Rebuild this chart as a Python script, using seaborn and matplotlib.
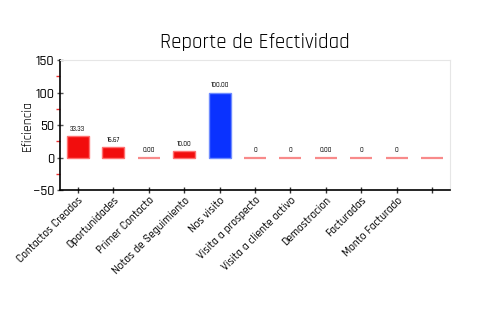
import matplotlib
matplotlib.use("Agg")
import matplotlib.pyplot as plt
import seaborn as sns
import pandas as pd

categorias = ["Contactos Creados", "Oportunidades", "Primer Contacto",
              "Notas de Seguimiento", "Nos visito", "Visita a prospecto",
              "Visita a cliente activo", "Demostracion", "Facturadas",
              "Monto Facturado", ""]
eficiencia = [33.33, 16.67, 0.00, 10.00, 100.00, 0, 0, 0.00, 0, 0, 0]
etiquetas = ["33.33", "16.67", "0.00", "10.00", "100.00", "0", "0", "0.00",
             "0", "0", ""]

sns.set_theme(style="white")
plt.rcParams["font.family"] = ["Rajdhani", "Barlow Semi Condensed", "DejaVu Sans"]
plt.rcParams["font.weight"] = "medium"
for key in ["text.color", "axes.labelcolor", "xtick.labelcolor",
            "ytick.labelcolor", "axes.titlecolor"]:
    plt.rcParams[key] = "black"

df = pd.DataFrame({"cat": [c if c else " " for c in categorias],
                   "val": eficiencia})

def color_for(v):
    if v >= 100:
        return "#0a32ff"
    if v > 0:
        return "#f20d0d"
    return "#f88a8a"

colores = [color_for(v) for v in eficiencia]
bordes = ["#6f8cff" if v >= 100 else ("#ff7070" if v > 0 else "#f88a8a")
          for v in eficiencia]

fig = plt.figure(figsize=(5, 3.3), dpi=100)
ax = fig.add_axes([0.12, 0.424, 0.78, 0.394])
sns.barplot(data=df, x="cat", y="val", hue="cat", palette=colores,
            legend=False, width=0.62, ax=ax, saturation=1)

for patch, ec, v in zip(ax.patches, bordes, eficiencia):
    patch.set_edgecolor(ec)
    patch.set_linewidth(1.0 if v > 0 else 1.6)

for i, (v, t) in enumerate(zip(eficiencia, etiquetas)):
    if t:
        ax.annotate(t, (i, max(v, 0)), xytext=(0, 3), textcoords="offset points",
                    ha="center", va="bottom", fontsize=5, color="black")

ax.set_ylim(-50, 150)
ax.set_xlim(-0.5, len(categorias) - 0.5)
ax.set_yticks([-50, 0, 50, 100, 150])
ax.set_yticks([-25, 25, 75, 125], minor=True)
ax.tick_params(axis="y", which="major", length=5, width=1, color="#555555",
               labelsize=10, pad=1.5, left=True, direction="inout")
ax.tick_params(axis="y", which="minor", length=3, width=1, color="#f03030",
               left=True, direction="out")
ax.tick_params(axis="x", length=5, width=1, color="#333333", bottom=True,
               direction="inout", labelsize=8.4, pad=1)
ax.set_xticks(range(len(categorias)))
ax.set_xticklabels(categorias, rotation=45, ha="right", rotation_mode="anchor")

ax.set_xlabel("")
ax.set_ylabel("Eficiencia", fontsize=10, labelpad=0)
ax.set_title("Reporte de Efectividad", fontsize=15, pad=9)

for s in ["top", "right"]:
    ax.spines[s].set_color("#e6e6e6")
    ax.spines[s].set_linewidth(0.8)
for s in ["left", "bottom"]:
    ax.spines[s].set_color("black")
    ax.spines[s].set_linewidth(1.2)

fig.savefig("out.png", dpi=100)
